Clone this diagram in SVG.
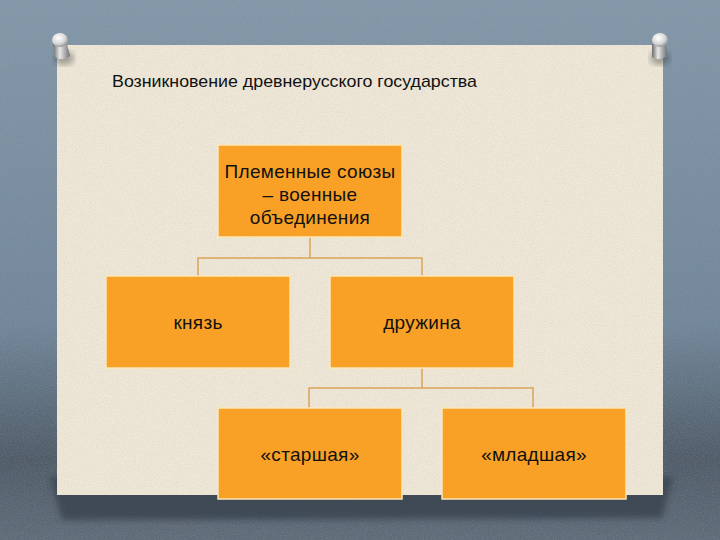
<svg xmlns="http://www.w3.org/2000/svg" width="720" height="540" viewBox="0 0 720 540">
<style>
.box{fill:#F9A126;stroke:#FCE7B8;stroke-width:1.5}
.lbl{font-family:"Liberation Sans",Arial,sans-serif;font-size:19px;fill:#111;text-anchor:middle;letter-spacing:0.3px}
.title{font-family:"Liberation Sans",Arial,sans-serif;font-size:17px;fill:#111}
.conn{fill:none;stroke:#D9A45A;stroke-width:1.5}
</style>
<defs>
<linearGradient id="bg" x1="0" y1="0" x2="0" y2="1">
<stop offset="0" stop-color="#8197a9"/>
<stop offset="0.6" stop-color="#70869a"/>
<stop offset="0.85" stop-color="#4e5b68"/>
<stop offset="1" stop-color="#5e6c79"/>
</linearGradient>
<filter id="noise" x="0" y="0" width="100%" height="100%">
<feTurbulence type="fractalNoise" baseFrequency="0.9" numOctaves="2" seed="3" result="n"/>
<feColorMatrix in="n" type="matrix" values="0 0 0 0 0.5  0 0 0 0 0.45  0 0 0 0 0.4  0 0 0 -1.6 1.0" result="a"/>
<feComposite in="a" in2="SourceGraphic" operator="in"/>
</filter>
<filter id="blur3"><feGaussianBlur stdDeviation="3"/></filter>
<radialGradient id="pinhead" cx="0.4" cy="0.35" r="0.7">
<stop offset="0" stop-color="#ffffff"/>
<stop offset="0.6" stop-color="#d8d8d8"/>
<stop offset="1" stop-color="#8a8a8a"/>
</radialGradient>
<linearGradient id="shaft" x1="0" y1="0" x2="1" y2="0">
<stop offset="0" stop-color="#6b6b6b"/>
<stop offset="0.4" stop-color="#e8e8e8"/>
<stop offset="1" stop-color="#707070"/>
</linearGradient>
</defs>
<rect x="0" y="0" width="720" height="540" fill="url(#bg)"/>
<rect x="0" y="0" width="720" height="540" fill="#000" opacity="0.25" filter="url(#noise)"/>
<polygon points="50,477 673,477 662,518 62,520" fill="#36414b" opacity="0.75" filter="url(#blur3)"/>
<rect x="57" y="45" width="606" height="450" fill="#efe8d8"/>
<rect x="57" y="45" width="606" height="450" fill="#8a7a60" opacity="0.3" filter="url(#noise)"/>
<g id="pin-left">
<ellipse cx="64" cy="58" rx="10" ry="7" fill="#333" opacity="0.4" filter="url(#blur3)"/>
<path d="M53,44 L67,44 L70,56 Q63,62 55,57 Z" fill="url(#shaft)"/>
<ellipse cx="60" cy="40" rx="8" ry="7" fill="url(#pinhead)"/>
</g>
<g id="pin-right">
<ellipse cx="660" cy="58" rx="10" ry="7" fill="#333" opacity="0.4" filter="url(#blur3)"/>
<path d="M652,44 L666,44 L667,56 Q659,62 652,57 Z" fill="url(#shaft)"/>
<ellipse cx="660" cy="40" rx="8" ry="7" fill="url(#pinhead)"/>
</g>
<text class="title" x="112" y="87" textLength="365" lengthAdjust="spacingAndGlyphs">Возникновение древнерусского государства</text>
<g id="connectors">
<path class="conn" d="M310,237 V258 M198,276 V258 H422 V276"/>
<path class="conn" d="M422,368 V388 M309,408 V388 H533 V408"/>
</g>
<g id="node-unions">
<rect class="box" x="218" y="145" width="184" height="92"/>
<text class="lbl" x="310" y="178">Племенные союзы</text>
<text class="lbl" x="310" y="201">– военные</text>
<text class="lbl" x="310" y="224">объединения</text>
</g>
<g id="node-knyaz">
<rect class="box" x="106" y="276" width="184" height="92"/>
<text class="lbl" x="198" y="329">князь</text>
</g>
<g id="node-druzhina">
<rect class="box" x="330" y="276" width="184" height="92"/>
<text class="lbl" x="422" y="329">дружина</text>
</g>
<g id="node-senior">
<rect class="box" x="218" y="408" width="184" height="91"/>
<text class="lbl" x="310" y="461">«старшая»</text>
</g>
<g id="node-junior">
<rect class="box" x="442" y="408" width="184" height="91"/>
<text class="lbl" x="534" y="461">«младшая»</text>
</g>
</svg>
